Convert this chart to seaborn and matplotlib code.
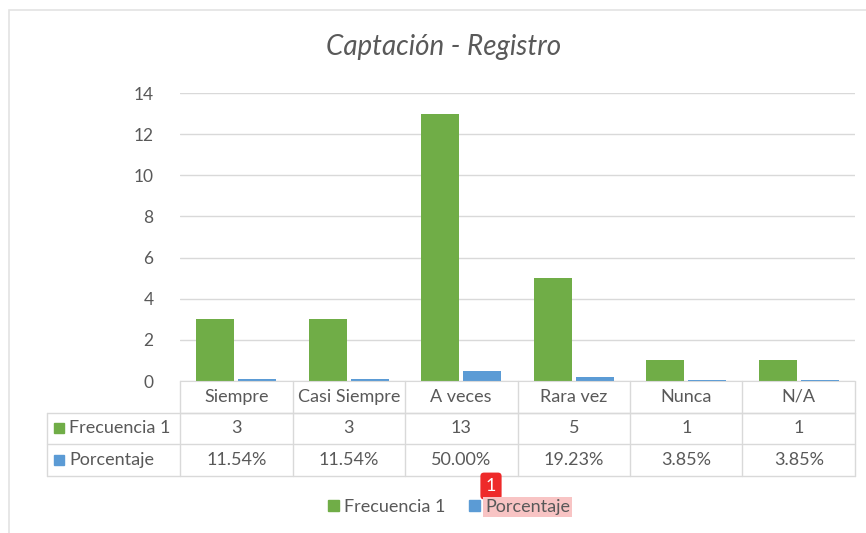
import numpy as np
import pandas as pd
import matplotlib
matplotlib.use("Agg")
import matplotlib.pyplot as plt
import matplotlib.transforms as mtransforms
from matplotlib.patches import Patch, Rectangle
import seaborn as sns

categorias = ["Siempre", "Casi Siempre", "A veces", "Rara vez", "Nunca", "N/A"]
frecuencia = [3, 3, 13, 5, 1, 1]
porcentaje = [0.1154, 0.1154, 0.5000, 0.1923, 0.0385, 0.0385]
series = ["Frecuencia 1", "Porcentaje"]
colores = ["#70AD47", "#5B9BD5"]
titulo = "Captación - Registro"

df = pd.DataFrame({
    "categoria": categorias * 2,
    "valor": frecuencia + porcentaje,
    "serie": [series[0]] * len(categorias) + [series[1]] * len(categorias),
})

sns.set_style("white")
plt.rcParams["font.family"] = ["Lato", "DejaVu Sans"]
gris = "#595959"
linea = "#D9D9D9"

W, H = 866, 533
fig = plt.figure(figsize=(W / 100, H / 100), dpi=100)
ax = fig.add_axes([180 / W, 1 - 381 / H, 675 / W, 288 / H])

# marco del grafico
fig.patches.append(Rectangle((9 / W, -0.1), 1.2, 1 - 10 / H + 0.1, transform=fig.transFigure,
                             fill=False, edgecolor="#E3E3E3", lw=1.2))

sns.barplot(data=df, x="categoria", y="valor", hue="serie", palette=colores,
            width=0.75, gap=0.1, ax=ax, linewidth=0, saturation=1)
ax.legend_.remove()
ax.set_xlim(-0.5, len(categorias) - 0.5)
ax.set_ylim(0, 14)
ax.set_yticks(range(0, 15, 2))
ax.yaxis.grid(True, color=linea, lw=1)
ax.set_axisbelow(True)
ax.set_xlabel("")
ax.set_ylabel("")
ax.set_xticks([])
ax.tick_params(axis="y", length=0, pad=19, labelsize=12.5, labelcolor=gris)
for s in ["top", "right", "left"]:
    ax.spines[s].set_visible(False)
ax.spines["bottom"].set_color(linea)

fig.text(444 / W, 1 - 47 / H, titulo, fontsize=20, style="italic",
         color=gris, ha="center", va="center")

# tabla de datos
tr = mtransforms.blended_transform_factory(ax.transData, ax.transAxes)
fila = 31.5 / 288
x_izq = -0.5 - 133 / 112.5
x_der = len(categorias) - 0.5
kw = dict(color=linea, lw=1, clip_on=False, transform=tr)
# lineas horizontales
ax.plot([-0.5, x_der], [-fila, -fila], **kw)
ax.plot([x_izq, x_der], [-fila, -fila], **kw)
ax.plot([x_izq, x_der], [-2 * fila, -2 * fila], **kw)
ax.plot([x_izq, x_der], [-3 * fila, -3 * fila], **kw)
# lineas verticales
for i in range(len(categorias) + 1):
    ax.plot([i - 0.5, i - 0.5], [0, -3 * fila], **kw)
ax.plot([x_izq, x_izq], [-fila, -3 * fila], **kw)

tk = dict(transform=tr, ha="center", va="center", color=gris, fontsize=13, clip_on=False)
for i, c in enumerate(categorias):
    ax.text(i, -0.5 * fila, c, **tk)
    ax.text(i, -1.5 * fila, str(frecuencia[i]), **tk)
    ax.text(i, -2.5 * fila, f"{porcentaje[i]:.2%}", **tk)

cw, ch = 10 / 112.5, 10 / 288
for j, (s, col) in enumerate(zip(series, colores)):
    y = -(1.5 + j) * fila
    ax.add_patch(Rectangle((x_izq + 7 / 112.5, y - ch / 2), cw, ch, transform=tr,
                           color=col, clip_on=False))
    ax.text(x_izq + 22 / 112.5, y, s, transform=tr, ha="left", va="center", color=gris,
            fontsize=13, clip_on=False)

# leyenda
handles = [Patch(color=c) for c in colores]
leg = fig.legend(handles, series, loc="center", bbox_to_anchor=(449 / W, 1 - 507 / H), ncol=2,
                 frameon=False, handlelength=0.6, handleheight=0.6, handletextpad=0.3,
                 columnspacing=1.3, fontsize=13, labelcolor=gris)
leg.get_texts()[1].set_bbox(dict(facecolor="#F8C4C4", edgecolor="none", pad=1.5))

# marcador
fig.text(491 / W, 1 - 486 / H, "1", color="white", fontsize=13, ha="center", va="center",
         bbox=dict(boxstyle="round,pad=0.3,rounding_size=0.2", facecolor="#EE2A2A", edgecolor="none"))

fig.savefig("out.png", dpi=100)
